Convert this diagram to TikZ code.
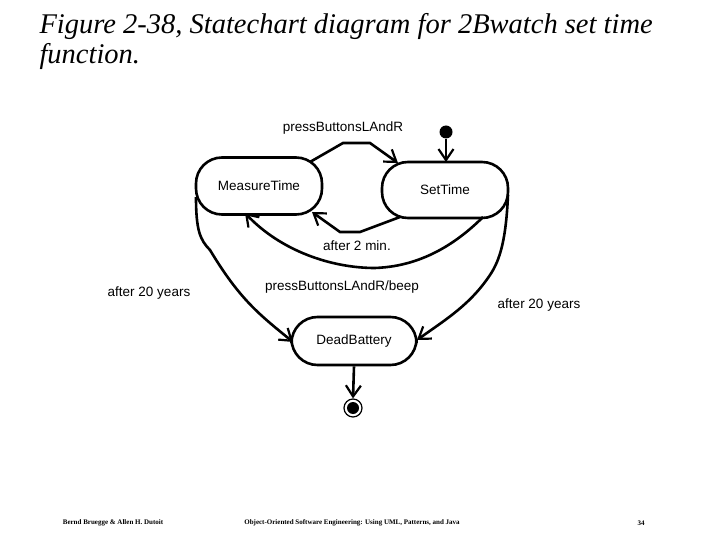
\documentclass[tikz,border=0pt]{standalone}
\usepackage{fontspec}
\setmainfont{Liberation Serif}
\setsansfont{Liberation Sans}
\usetikzlibrary{arrows.meta}
\begin{document}
\begin{tikzpicture}[x=1pt,y=-1pt,
  st/.style={draw,line width=2.6pt,rounded corners=26pt,font=\sffamily\fontsize{13.5}{15}\selectfont},
  tr/.style={line width=2.6pt,-{Straight Barb[length=11pt,width=15pt,line width=2.2pt]}},
  lbl/.style={font=\sffamily\fontsize{13.5}{15}\selectfont},
  foot/.style={font=\fontsize{7}{8}\selectfont\bfseries}]
\useasboundingbox (0,0) rectangle (720,540);
\node[anchor=north west,align=left,font=\itshape\fontsize{28.5}{30}\selectfont] (title) at (36,10) {Figure 2-38, Statechart diagram for 2Bwatch set time\\function.};
\node[st,minimum width=126pt,minimum height=57pt] (mt) at (259,186) {MeasureTime};
\node[st,minimum width=126pt,minimum height=56pt] (stt) at (445,190) {SetTime};
\node[st,minimum width=125pt,minimum height=48pt] (db) at (354,341) {DeadBattery};
\node[circle,fill,inner sep=0pt,minimum size=13pt] (ini) at (446,132) {};
\node[circle,draw,line width=1.2pt,minimum size=18pt,inner sep=0pt] (fin) at (353,408) {};
\fill (fin) circle (6);
\draw[tr] (ini) -- (446,162);
\draw[tr] (310,162) -- (343,143) -- (370,143) -- (398,163);
\draw[tr] (400,217) -- (360,232) -- (340,232) -- (312,212);
\draw[tr] (483,217) .. controls (440,260) and (400,267) .. (375,268) .. controls (330,268) and (280,250) .. (245,213);
\draw[tr] (196,197) .. controls (196,230) and (200,240) .. (210,250) .. controls (240,300) and (260,315) .. (293,342);
\draw[tr] (508,195) .. controls (506,240) and (500,260) .. (490,275) .. controls (470,305) and (445,320) .. (417,340);
\draw[tr] (db.south) -- (fin.north);
\node[lbl] (l1) at (343,128) {pressButtonsLAndR};
\node[lbl] (l2) at (357,246) {after 2 min.};
\node[lbl] (l3) at (342,287) {pressButtonsLAndR/beep};
\node[lbl] (l4) at (149,293) {after 20 years};
\node[lbl] (l5) at (539,305) {after 20 years};
\node[foot] (f1) at (113,523) {Bernd Bruegge \& Allen H. Dutoit};
\node[foot] (f2) at (352,523) {Object-Oriented Software Engineering: Using UML, Patterns, and Java};
\node[foot] (f3) at (641,523) {34};
\end{tikzpicture}
\end{document}
